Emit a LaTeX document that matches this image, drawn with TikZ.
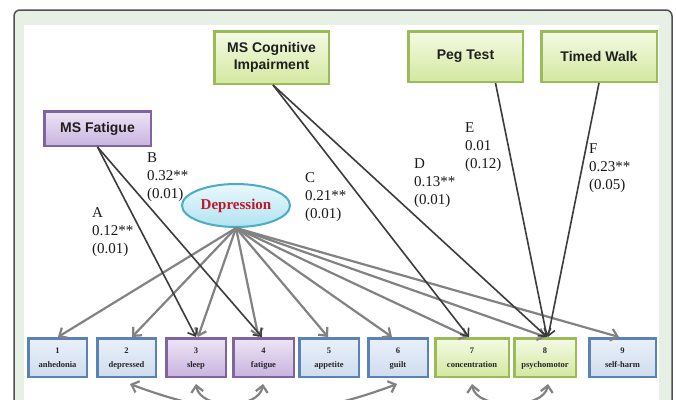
\documentclass[tikz,border=0pt]{standalone}
\usepackage{fontspec}
\setmainfont{Liberation Serif}
\setsansfont{Liberation Sans}
\usetikzlibrary{arrows.meta,shapes.geometric,calc}
\definecolor{band}{HTML}{E7F0E5}
\definecolor{frameC}{HTML}{505050}
\definecolor{purpB}{HTML}{8064A2}
\definecolor{purpT}{HTML}{EDE5F5}
\definecolor{purpBt}{HTML}{C9B3DF}
\definecolor{greenB}{HTML}{9BBB59}
\definecolor{greenT}{HTML}{F4FAE4}
\definecolor{greenBt}{HTML}{D3E8A0}
\definecolor{blueB}{HTML}{5A82B6}
\definecolor{blueT}{HTML}{E9F0F9}
\definecolor{blueBt}{HTML}{D0DDEE}
\definecolor{depB}{HTML}{4BACC6}
\definecolor{depT}{HTML}{EAF8FC}
\definecolor{depBt}{HTML}{B0E3F1}
\definecolor{depText}{HTML}{C0182A}
\definecolor{darkLine}{HTML}{3C3C3C}
\definecolor{grayLine}{HTML}{828282}
\tikzset{
  topbox/.style={draw, line width=2.5pt, inner sep=0pt, align=center,
    font=\fontsize{14}{17}\selectfont\sffamily\bfseries, text=black!88},
  purpfill/.style={draw=purpB, top color=purpT, bottom color=purpBt},
  greenfill/.style={draw=greenB, top color=greenT, bottom color=greenBt},
  bluefill/.style={draw=blueB, top color=blueT, bottom color=blueBt},
  bbox/.style={draw, line width=2.5pt, inner sep=0pt, minimum height=38.5pt,
    font=\fontsize{8.5}{14}\selectfont\bfseries, text=black!85},
  coeftext/.style={anchor=base west, inner sep=0pt, font=\fontsize{15}{18}\selectfont, text=black!90},
  grayarrow/.style={draw=grayLine, line width=2.2pt, -{Straight Barb[length=6.5pt,width=12pt]}},
  darkarrow/.style={draw=darkLine, line width=1.6pt, -{Straight Barb[length=6.5pt,width=11pt]}},
  corrarrow/.style={draw=grayLine, line width=2.2pt, {Straight Barb[length=6.5pt,width=12pt]}-{Straight Barb[length=6.5pt,width=12pt]}}
}
\newcommand\bbx[6]{\node[bbox,#2,minimum width=#4] (#1) at (#3,357.5) {\raisebox{3.5pt}{\begin{tabular}{@{}c@{}}#5\\#6\end{tabular}}};}
\newcommand\coef[6]{%
  \node[coeftext] (#1L) at (#2,#3) {#4};
  \node[coeftext] (#1V) at (#2,#3+18) {#5};
  \node[coeftext] (#1S) at (#2,#3+36) {#6};}
\begin{document}
\begin{tikzpicture}[x=1pt,y=-1pt]
\path[use as bounding box] (0,0) rectangle (677,399);
\begin{scope}
\clip (0,0) rectangle (677,399);
\fill[white] (0,0) rectangle (677,399);
\draw[rounded corners=6pt, fill=band, draw=frameC, line width=1.5pt] (14,10) rectangle (672,440);
\fill[white] (24,25) rectangle (659,440);

% predictor boxes
\node[topbox,purpfill,minimum width=106.5pt,minimum height=34.5pt] (fat) at (97.5,128.5) {MS Fatigue};
\node[topbox,greenfill,minimum width=114.5pt,minimum height=52.5pt] (cog) at (271.5,57.5) {MS Cognitive\\Impairment};
\node[topbox,greenfill,minimum width=114.5pt,minimum height=50.5pt] (peg) at (465.5,56.5) {Peg Test};
\node[topbox,greenfill,minimum width=115.5pt,minimum height=50.5pt] (walk) at (599,56.5) {Timed Walk};

% symptom boxes
\bbx{b1}{bluefill}{57.5}{58.5pt}{1}{anhedonia}
\bbx{b2}{bluefill}{126.5}{58.5pt}{2}{depressed}
\bbx{b3}{purpfill}{196}{59.5pt}{3}{sleep}
\bbx{b4}{purpfill}{263.5}{60.5pt}{4}{fatigue}
\bbx{b5}{bluefill}{329}{59.5pt}{5}{appetite}
\bbx{b6}{bluefill}{398}{59.5pt}{6}{guilt}
\bbx{b7}{greenfill}{472}{73.5pt}{7}{concentration}
\bbx{b8}{greenfill}{545}{61.5pt}{8}{psychomotor}
\bbx{b9}{bluefill}{622.5}{66.5pt}{9}{self-harm}

% depression ellipse
\node[ellipse, draw=depB, line width=2pt, top color=depT, bottom color=depBt,
  minimum width=108pt, minimum height=43pt, inner sep=0pt,
  font=\fontsize{15}{18}\selectfont\bfseries, text=depText] (dep) at (236,205.5) {Depression};

% depression loadings
\foreach \t/\dx in {b1/0.5,b2/5.5,b3/2,b4/-5,b5/-1,b6/-6,b7/-4,b8/1,b9/-3.5}
  \draw[grayarrow] (dep.south) -- ($(\t.north)+(\dx,0)$);

% predictor paths
\draw[darkarrow] (fat.south) -- ($(b3.north)+(0,0)$);
\draw[darkarrow] (fat.south) -- ($(b4.north)+(-1.5,0)$);
\draw[darkarrow] ($(cog.south)+(1.5,0)$) -- ($(b7.north)+(-3,0)$);
\draw[darkarrow] ($(cog.south)+(1.5,0)$) -- ($(b8.north)+(2,0)$);
\draw[darkarrow] ($(peg.south)+(30,0)$) -- ($(b8.north)+(2,0)$);
\draw[darkarrow] (walk.south) -- ($(b8.north)+(3,0)$);

% correlated residuals
\coordinate (c2) at ($(b2.south)+(3.5,6)$);
\coordinate (c6) at ($(b6.south)+(-1,6)$);
\coordinate (c3) at ($(b3.south)+(0,6)$);
\coordinate (c4) at ($(b4.south)+(-0.5,6)$);
\coordinate (c7) at ($(b7.south)+(0,6)$);
\coordinate (c8) at ($(b8.south)+(3,6)$);
\draw[corrarrow] (c2) .. controls (228,421) and (299,421) .. (c6);
\draw[corrarrow] (c3) .. controls (200,410) and (259,410) .. (c4);
\draw[corrarrow] (c7) .. controls (476,410) and (544,410) .. (c8);

% coefficients
\coef{A}{92}{217}{A}{0.12**}{(0.01)}
\coef{B}{147}{162}{B}{0.32**}{(0.01)}
\coef{C}{305}{182}{C}{0.21**}{(0.01)}
\coef{D}{414}{168}{D}{0.13**}{(0.01)}
\coef{E}{465}{132}{E}{0.01}{(0.12)}
\coef{F}{589}{153}{F}{0.23**}{(0.05)}
\end{scope}
\end{tikzpicture}
\end{document}
